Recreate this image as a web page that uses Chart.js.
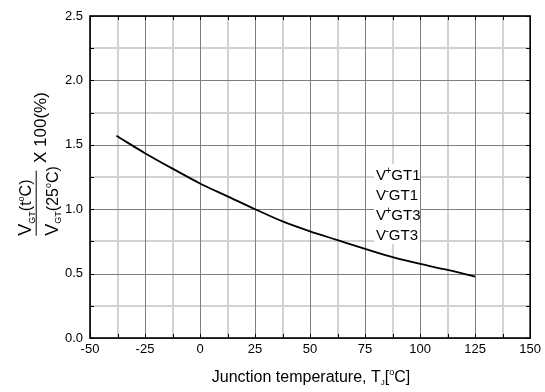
<!DOCTYPE html>
<html>
<head>
<meta charset="utf-8">
<script src="https://cdn.jsdelivr.net/npm/chart.js@4.4.1/dist/chart.umd.min.js"></script>
<style>
  html, body { margin: 0; padding: 0; background: #fff; }
  canvas { display: block; }
</style>
</head>
<body>
<canvas id="chart" width="545" height="392"></canvas>
<script>
// ================= DATA =================
const temps = [-38, -25, -12.5, 0, 12.5, 25, 37.5, 50, 62.5, 75, 87.5, 100, 112.5, 125];
const ratio = [1.57, 1.435, 1.315, 1.2, 1.1, 1.0, 0.905, 0.828, 0.76, 0.692, 0.628, 0.575, 0.528, 0.476];
const gateSigns = ["+", "-", "+", "-"];
const gateNames = ["GT1", "GT1", "GT3", "GT3"];

const X_MIN = -50, X_MAX = 150, X_MAJOR = 25, X_MINOR = 12.5;
const Y_MIN = 0, Y_MAX = 2.5, Y_MAJOR = 0.5, Y_MINOR = 0.25;

const FONT = "'Liberation Sans', Arial, sans-serif";

// draw a list of text pieces one after another, each with its own size / baseline shift
function drawRuns(ctx, x, y, runs) {
  let cx = x;
  runs.forEach((r) => {
    ctx.font = `${r.size}px ${FONT}`;
    ctx.fillText(r.t, cx, y + (r.dy || 0));
    cx += ctx.measureText(r.t).width + (r.gap || 0);
  });
  return cx;
}

const isMajor = (v, step) => Math.abs(v / step - Math.round(v / step)) < 1e-6;

function steps(min, max, step) {
  const out = [];
  for (let i = 0; min + i * step <= max + 1e-9; i++) out.push(min + i * step);
  return out;
}

// ================= PLUGINS =================
// grid (minor + major), drawn under the curve
const grid = {
  id: "grid",
  beforeDatasetsDraw(chart) {
    const { ctx, chartArea: a, scales } = chart;
    const { x, y } = scales;
    ctx.save();
    // minor lines: light and a bit wider
    ctx.strokeStyle = "#d2d2d2";
    ctx.lineWidth = 2;
    ctx.beginPath();
    steps(X_MIN, X_MAX, X_MINOR).forEach((v) => {
      if (isMajor(v, X_MAJOR)) return;
      const px = Math.round(x.getPixelForValue(v));
      ctx.moveTo(px, a.top); ctx.lineTo(px, a.bottom);
    });
    steps(Y_MIN, Y_MAX, Y_MINOR).forEach((v) => {
      if (isMajor(v, Y_MAJOR)) return;
      const py = Math.round(y.getPixelForValue(v));
      ctx.moveTo(a.left, py); ctx.lineTo(a.right, py);
    });
    ctx.stroke();
    // major lines
    ctx.strokeStyle = "#7e7e7e";
    ctx.lineWidth = 1;
    ctx.beginPath();
    steps(X_MIN, X_MAX, X_MAJOR).forEach((v) => {
      const px = Math.round(x.getPixelForValue(v)) + 0.5;
      ctx.moveTo(px, a.top); ctx.lineTo(px, a.bottom);
    });
    steps(Y_MIN, Y_MAX, Y_MAJOR).forEach((v) => {
      const py = Math.round(y.getPixelForValue(v)) + 0.5;
      ctx.moveTo(a.left, py); ctx.lineTo(a.right, py);
    });
    ctx.stroke();
    ctx.restore();
  },
};

const frame = {
  id: "frame",
  afterDraw(chart) {
    const { ctx, chartArea: a, scales } = chart;
    const { x, y } = scales;
    ctx.save();

    // inward tick marks on all four sides
    ctx.strokeStyle = "#000";
    ctx.lineWidth = 1;
    ctx.beginPath();
    steps(X_MIN, X_MAX, X_MINOR).forEach((v) => {
      const px = Math.round(x.getPixelForValue(v)) + 0.5;
      ctx.moveTo(px, a.bottom); ctx.lineTo(px, a.bottom - 4);
      ctx.moveTo(px, a.top); ctx.lineTo(px, a.top + 4);
    });
    steps(Y_MIN, Y_MAX, Y_MINOR).forEach((v) => {
      const py = Math.round(y.getPixelForValue(v)) + 0.5;
      ctx.moveTo(a.left, py); ctx.lineTo(a.left + 4, py);
      ctx.moveTo(a.right, py); ctx.lineTo(a.right - 4, py);
    });
    ctx.stroke();

    // frame
    ctx.lineWidth = 1.6;
    ctx.strokeRect(a.left, a.top, a.right - a.left, a.bottom - a.top);

    // curve labels, on a white box
    ctx.fillStyle = "#fff";
    ctx.fillRect(374, 164, 46, 80);
    ctx.fillStyle = "#000";
    ctx.textAlign = "left";
    ctx.textBaseline = "alphabetic";
    gateNames.forEach((n, i) => {
      drawRuns(ctx, 376, 179.5 + i * 20.3, [
        { t: "V", size: 15, gap: -0.5 },
        { t: gateSigns[i], size: 10, dy: -6 },
        { t: n, size: 15 },
      ]);
    });

    // x axis title
    const xr = [
      { t: "Junction temperature, T", size: 16 },
      { t: "J", size: 8, dy: 3 },
      { t: "[", size: 16 },
      { t: "o", size: 9, dy: -7 },
      { t: "C]", size: 16 },
    ];
    let w = 0;
    xr.forEach((r) => { ctx.font = `${r.size}px ${FONT}`; w += ctx.measureText(r.t).width; });
    drawRuns(ctx, 311 - w / 2, 382, xr);

    // y axis title: fraction x 100(%)
    ctx.save();
    ctx.translate(35.7, 235.7);
    ctx.rotate(-Math.PI / 2);
    ctx.strokeStyle = "#000";
    ctx.lineWidth = 1;
    ctx.beginPath();
    ctx.moveTo(0, 0.5);
    ctx.lineTo(65, 0.5);
    ctx.stroke();
    drawRuns(ctx, 0, -4.7, [
      { t: "V", size: 18 },
      { t: "GT", size: 9, dy: 3.5 },
      { t: "(t", size: 16 },
      { t: "o", size: 9, dy: -7 },
      { t: "C)", size: 16 },
    ]);
    drawRuns(ctx, 0, 22, [
      { t: "V", size: 18 },
      { t: "GT", size: 9, dy: 3.5 },
      { t: "(25", size: 16 },
      { t: "o", size: 9, dy: -7 },
      { t: "C)", size: 16 },
    ]);
    drawRuns(ctx, 72.7, 10, [{ t: "X 100(%)", size: 17 }]);
    ctx.restore();

    ctx.restore();
  },
};

// ================= CHART =================
new Chart(document.getElementById("chart"), {
  type: "line",
  data: {
    datasets: [
      {
        data: temps.map((t, i) => ({ x: t, y: ratio[i] })),
        borderColor: "#000",
        borderWidth: 1.8,
        pointRadius: 0,
        fill: false,
        cubicInterpolationMode: "monotone",
      },
    ],
  },
  options: {
    responsive: false,
    animation: false,
    devicePixelRatio: 1,
    layout: { padding: { top: 16, right: 13, left: 0, bottom: 0 } },
    plugins: { legend: { display: false }, tooltip: { enabled: false } },
    scales: {
      x: {
        type: "linear",
        min: X_MIN,
        max: X_MAX,
        border: { display: false },
        grid: { display: false, drawTicks: false },
        ticks: {
          stepSize: X_MAJOR,
          autoSkip: false,
          maxRotation: 0,
          padding: 4,
          color: "#000",
          font: { size: 13, family: FONT },
          callback: (v) => String(v),
        },
        afterFit: (s) => { s.height = 54; },
      },
      y: {
        min: Y_MIN,
        max: Y_MAX,
        border: { display: false },
        grid: { display: false, drawTicks: false },
        ticks: {
          stepSize: Y_MAJOR,
          autoSkip: false,
          padding: 7,
          color: "#000",
          font: { size: 13, family: FONT },
          callback: (v) => v.toFixed(1),
        },
        afterFit: (s) => { s.width = 90; },
      },
    },
  },
  plugins: [grid, frame],
});
</script>
</body>
</html>
